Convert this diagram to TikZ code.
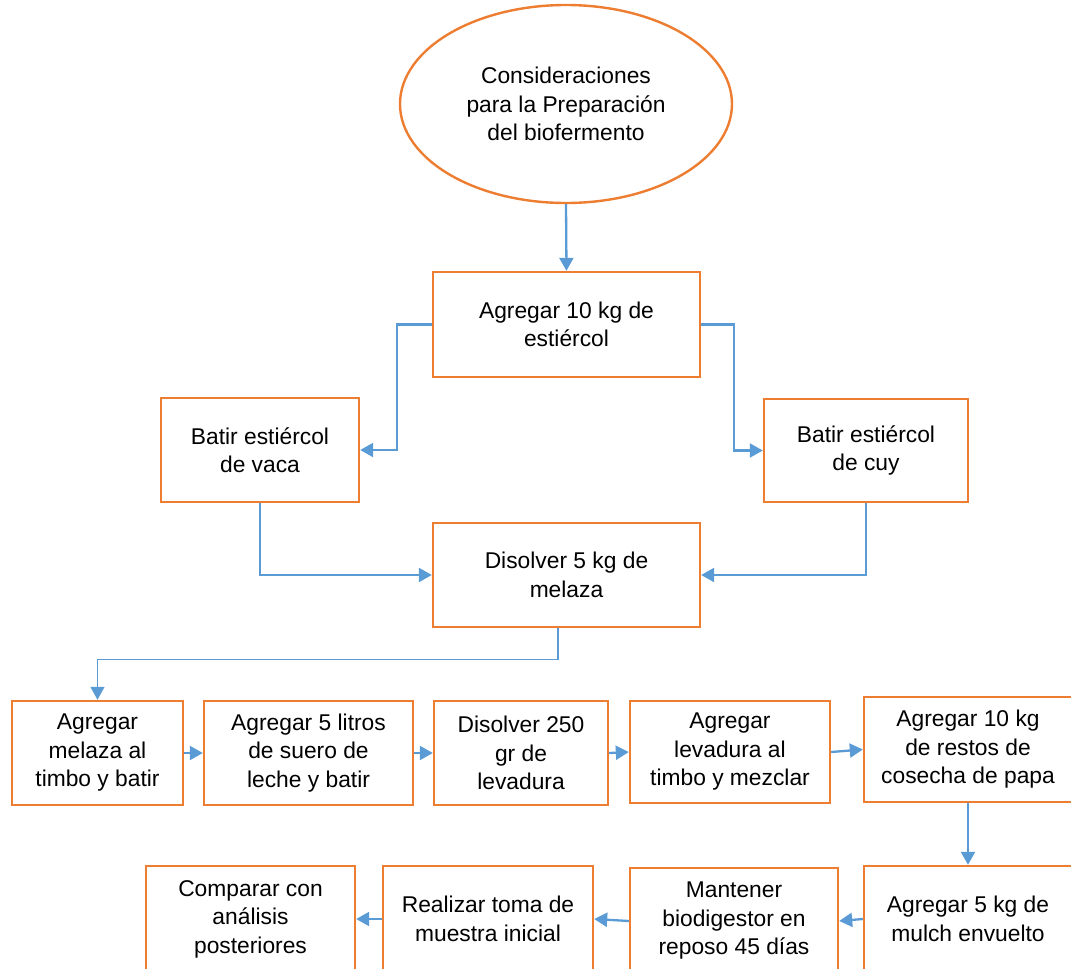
\documentclass[tikz,border=0pt]{standalone}
\usepackage{fontspec}
\setmainfont{Liberation Sans}
\usetikzlibrary{shapes.geometric,arrows.meta}
\definecolor{naranja}{HTML}{ED7D31}
\definecolor{azul}{HTML}{5B9BD5}
\tikzset{
  paso/.style={draw=naranja, line width=2.4pt, rectangle, inner sep=0pt, align=center,
    font=\fontsize{22.8}{28.5}\selectfont},
  ovalo/.style={paso, ellipse},
  flecha/.style={draw=azul, line width=2.3pt, -{Triangle[length=13pt,width=14pt]}}
}
\begin{document}
\begin{tikzpicture}[x=1pt,y=-1pt]
        \useasboundingbox (0,0) rectangle (1071,969);
        \clip (0,0) rectangle (1071,969);

        % Inicio y primeros pasos
        \node[ovalo, minimum width=332pt, minimum height=198pt] (inicio) at (566,104)
          {Consideraciones\\para la Preparación\\del biofermento};
        \node[paso, minimum width=267pt, minimum height=105pt] (estiercol) at (566.5,324.5)
          {Agregar 10 kg de\\estiércol};
        \node[paso, minimum width=198pt, minimum height=104pt] (vaca) at (260,450)
          {Batir estiércol\\de vaca};
        \node[paso, minimum width=204pt, minimum height=103pt] (cuy) at (866,450.5)
          {Batir estiércol\\de cuy};
        \node[paso, minimum width=267pt, minimum height=104pt] (melaza) at (566.5,575)
          {Disolver 5 kg de\\melaza};

        % Tercera fila
        \node[paso, minimum width=171pt, minimum height=104pt] (p1) at (97.5,753)
          {Agregar\\melaza al\\timbo y batir};
        \node[paso, minimum width=209pt, minimum height=104pt] (p2) at (308.5,753)
          {Agregar 5 litros\\de suero de\\leche y batir};
        \node[paso, minimum width=174pt, minimum height=104pt] (p3) at (521,753)
          {Disolver 250\\gr de\\levadura};
        \node[paso, minimum width=200pt, minimum height=102pt] (p4) at (730,752)
          {Agregar\\levadura al\\timbo y mezclar};
        \node[paso, minimum width=208pt, minimum height=105pt] (p5) at (968,749.5)
          {Agregar 10 kg\\de restos de\\cosecha de papa};

        % Cuarta fila
        \node[paso, minimum width=208pt, minimum height=106pt] (p6) at (968,919)
          {Agregar 5 kg de\\mulch envuelto};
        \node[paso, minimum width=208pt, minimum height=106pt] (p7) at (734,921)
          {Mantener\\biodigestor en\\reposo 45 días};
        \node[paso, minimum width=210pt, minimum height=106pt] (p8) at (488,919)
          {Realizar toma de\\muestra inicial};
        \node[paso, minimum width=209pt, minimum height=106pt] (p9) at (250.5,919)
          {Comparar con\\análisis\\posteriores};

        % Conectores
        \draw[flecha] (inicio.south) -- (estiercol.north);
        \draw[flecha] (estiercol.west) -- ++(-35,0) |- (vaca.east);
        \draw[flecha] (estiercol.east) -- ++(33,0) |- (cuy.west);
        \draw[flecha] (vaca.south) |- (melaza.west);
        \draw[flecha] (cuy.south) |- (melaza.east);
        \draw[flecha, line width=1.2pt] ([xshift=-8.5pt]melaza.south) -- ++(0,31) -| (p1.north);
        \draw[flecha] (p1.east) -- (p2.west);
        \draw[flecha] (p2.east) -- (p3.west);
        \draw[flecha] (p3.east) -- (p4.west);
        \draw[flecha] (p4.east) -- (p5.west);
        \draw[flecha] (p5.south) -- (p6.north);
        \draw[flecha] (p6.west) -- (p7.east);
        \draw[flecha] (p7.west) -- (p8.east);
        \draw[flecha] (p8.west) -- (p9.east);
\end{tikzpicture}
\end{document}
